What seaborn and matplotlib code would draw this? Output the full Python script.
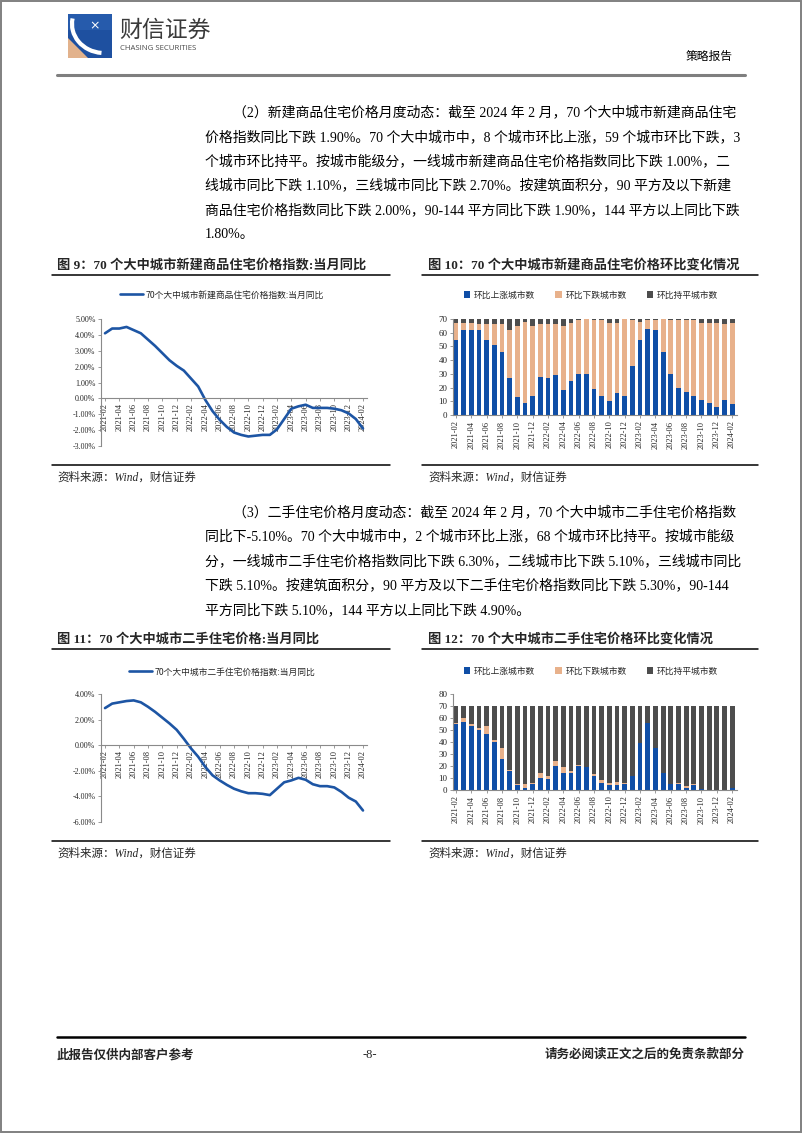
import numpy as np
import pandas as pd
import matplotlib
matplotlib.use("Agg")
import matplotlib.pyplot as plt
import seaborn as sns
from matplotlib.lines import Line2D
from matplotlib.patches import Rectangle, Patch, Polygon, Arc

# ---------------- data ----------------
months = ["2021-02", "2021-03", "2021-04", "2021-05", "2021-06", "2021-07", "2021-08",
          "2021-09", "2021-10", "2021-11", "2021-12", "2022-01", "2022-02", "2022-03",
          "2022-04", "2022-05", "2022-06", "2022-07", "2022-08", "2022-09", "2022-10",
          "2022-11", "2022-12", "2023-01", "2023-02", "2023-03", "2023-04", "2023-05",
          "2023-06", "2023-07", "2023-08", "2023-09", "2023-10", "2023-11", "2023-12",
          "2024-01", "2024-02"]

# 图9 新建商品住宅价格指数 当月同比 (%)
new_yoy = [4.1, 4.4, 4.4, 4.5, 4.3, 4.1, 3.7, 3.3, 2.85, 2.4,
           2.05, 1.75, 1.25, 0.75, -0.1, -0.8, -1.35, -1.8, -2.15, -2.3,
           -2.4, -2.35, -2.3, -2.3, -1.95, -1.3, -0.65, -0.5, -0.4, -0.6,
           -0.6, -0.6, -0.65, -0.75, -0.95, -1.3, -1.9]

# 图10 新建商品住宅 环比城市数
new_up = [55, 62, 62, 62, 55, 51, 46, 27, 13, 9,
          14, 28, 27, 29, 18, 25, 30, 30, 19, 14,
          10, 16, 14, 36, 55, 63, 62, 46, 30, 20,
          17, 14, 11, 9, 6, 11, 8]
new_flat = [3, 3, 3, 4, 4, 4, 4, 8, 5, 2,
            5, 4, 4, 4, 5, 3, 1, 0, 1, 1,
            3, 3, 0, 1, 2, 1, 1, 0, 1, 1,
            1, 1, 3, 3, 3, 4, 3]
new_total = [70] * 37

# 图11 二手住宅价格指数 当月同比 (%)
sec_yoy = [2.9, 3.25, 3.35, 3.45, 3.5, 3.35, 3.0, 2.6, 2.15, 1.7,
           1.2, 0.5, -0.25, -0.9, -1.7, -2.35, -2.75, -3.1, -3.4, -3.6,
           -3.75, -3.75, -3.8, -3.9, -3.4, -2.9, -2.75, -2.55, -2.7, -3.05,
           -3.2, -3.2, -3.3, -3.65, -4.1, -4.4, -5.1]

# 图12 二手住宅 环比城市数
sec_up = [55, 57, 53, 50, 47, 40, 26, 16, 4, 2,
          5, 10, 9, 20, 14, 14, 20, 19, 12, 6,
          4, 4, 5, 12, 39, 56, 35, 14, 5, 5,
          2, 4, 1, 0, 0, 0, 2]
sec_down = [1, 3, 2, 2, 6, 2, 9, 1, 1, 3,
            1, 4, 3, 4, 5, 2, 1, 0, 1, 2,
            2, 3, 1, 0, 0, 0, 0, 0, 0, 1,
            1, 1, 0, 0, 0, 0, 0]
sec_total = [70] * 37

legend_bar = ["环比上涨城市数", "环比下跌城市数", "环比持平城市数"]
legend_new_line = "70个大中城市新建商品住宅价格指数:当月同比"
legend_sec_line = "70个大中城市二手住宅价格指数:当月同比"

para2 = ["（2）新建商品住宅价格月度动态：截至 2024 年 2 月，70 个大中城市新建商品住宅",
         "价格指数同比下跌 1.90%。70 个大中城市中，8 个城市环比上涨，59 个城市环比下跌，3",
         "个城市环比持平。按城市能级分，一线城市新建商品住宅价格指数同比下跌 1.00%，二",
         "线城市同比下跌 1.10%，三线城市同比下跌 2.70%。按建筑面积分，90 平方及以下新建",
         "商品住宅价格指数同比下跌 2.00%，90-144 平方同比下跌 1.90%，144 平方以上同比下跌",
         "1.80%。"]
para3 = ["（3）二手住宅价格月度动态：截至 2024 年 2 月，70 个大中城市二手住宅价格指数",
         "同比下-5.10%。70 个大中城市中，2 个城市环比上涨，68 个城市环比持平。按城市能级",
         "分，一线城市二手住宅价格指数同比下跌 6.30%，二线城市比下跌 5.10%，三线城市同比",
         "下跌 5.10%。按建筑面积分，90 平方及以下二手住宅价格指数同比下跌 5.30%，90-144",
         "平方同比下跌 5.10%，144 平方以上同比下跌 4.90%。"]
titles = ["图 9：70 个大中城市新建商品住宅价格指数:当月同比",
          "图 10：70 个大中城市新建商品住宅价格环比变化情况",
          "图 11：70 个大中城市二手住宅价格:当月同比",
          "图 12：70 个大中城市二手住宅价格环比变化情况"]
source = "资料来源：Wind，财信证券"

# ---------------- style ----------------
sns.set_theme(style="ticks")
CJK = "Noto Sans CJK SC"
SERIF = ["Liberation Serif", CJK, "DejaVu Sans"]
plt.rcParams["font.family"] = SERIF
plt.rcParams["axes.unicode_minus"] = False

LINE_C = "#1D55A4"
BLUE = "#0F4EA6"
ORANGE = "#E8B18B"
DARK = "#4D4D4D"
AX_C = "#8A8A8A"

W, H = 802, 1133
fig = plt.figure(figsize=(W / 100, H / 100), dpi=100)
fig.patch.set_facecolor("white")


def axes_px(x0, y0, x1, y1):
    return fig.add_axes([x0 / W, 1 - y1 / H, (x1 - x0) / W, (y1 - y0) / H])


def ftext(x, y, s, **kw):
    return fig.text(x / W, 1 - y / H, s, **kw)


def hline(x0, x1, y, lw, color):
    fig.add_artist(Line2D([x0 / W, x1 / W], [1 - y / H, 1 - y / H], lw=lw,
                          color=color, transform=fig.transFigure))


# page border
fig.add_artist(Rectangle((0.6 / W, 0.6 / H), (W - 1.2) / W, (H - 1.2) / H,
                         transform=fig.transFigure, fill=False, ec="#808080", lw=1.4))

# ---------------- header ----------------
lax = axes_px(68, 14, 112, 58)
lax.set_xlim(0, 44)
lax.set_ylim(44, 0)
lax.axis("off")
lax.add_patch(Rectangle((0, 0), 44, 44, fc="#1E50A0", ec="none"))
lax.add_patch(Rectangle((0, 0), 44, 16, fc="#2C63B5", ec="none", alpha=0.6))
lax.add_patch(Polygon([(0, 24), (0, 44), (20, 44)], closed=True, fc="#E2B28C", ec="none"))
lax.add_patch(Arc((36, 10), 64, 58, theta1=95, theta2=190, color="white", lw=3.0))
lax.text(27, 12, "×", color="white", fontsize=9, ha="center", va="center", family="DejaVu Sans")

ftext(119, 30, "财信证券", fontsize=16.5, color="#3A3A3A", family=[CJK], va="center", ha="left")
ftext(120, 49, "CHASING SECURITIES", fontsize=5.6, color="#4A4A4A", family=["Open Sans", "DejaVu Sans"],
      va="center", ha="left")
ftext(733, 57, "策略报告", fontsize=8.5, color="black", family=SERIF, va="center", ha="right")
hline(57, 745, 75, 2.2, "#7F7F7F")

# ---------------- body text ----------------
for i, line in enumerate(para2):
    x = 233 if i == 0 else 205
    ftext(x, 112.5 + 24.4 * i, line, fontsize=10, family=SERIF, va="center", ha="left", color="black")
for i, line in enumerate(para3):
    x = 233 if i == 0 else 205
    ftext(x, 512 + 24.5 * i, line, fontsize=10, family=SERIF, va="center", ha="left", color="black")

# titles / rules / sources
LCOL = (52, 390)
RCOL = (422, 758)
for (col, tx), (title, ty) in zip([(LCOL, 57), (RCOL, 428), (LCOL, 57), (RCOL, 428)],
                                  [(titles[0], 265), (titles[1], 265), (titles[2], 639), (titles[3], 639)]):
    ftext(tx, ty, title, fontsize=9.5, fontweight="bold", family=SERIF, va="center", ha="left")
    hline(col[0], col[1], ty + 9.5, 1.1, "black")

for col, tx in [(LCOL, 57), (RCOL, 428)]:
    hline(col[0], col[1], 465, 1.1, "black")
    ftext(tx, 478, source, fontsize=8.3, style="italic", family=SERIF, va="center", ha="left")
    hline(col[0], col[1], 841, 1.1, "black")
    ftext(tx, 854, source, fontsize=8.3, style="italic", family=SERIF, va="center", ha="left")

# footer
hline(57, 745, 1037, 1.8, "black")
ftext(57, 1055, "此报告仅供内部客户参考", fontsize=9, fontweight="bold", family=SERIF, va="center", ha="left")
ftext(370, 1055, "-8-", fontsize=9, family=SERIF, va="center", ha="center")
ftext(745, 1055, "请务必阅读正文之后的免责条款部分", fontsize=9, fontweight="bold", family=SERIF,
      va="center", ha="right")


# ---------------- charts ----------------
def style_axes(ax):
    for s in ["top", "right"]:
        ax.spines[s].set_visible(False)
    for s in ["left", "bottom"]:
        ax.spines[s].set_color(AX_C)
        ax.spines[s].set_linewidth(0.8)
    ax.set_facecolor("none")
    ax.grid(False)
    ax.set_xlabel("")
    ax.set_ylabel("")


def line_chart(box, vals, ylim, yticks, label, leg_xy):
    ax = axes_px(*box)
    sns.lineplot(x=np.arange(len(vals)), y=vals, ax=ax, color=LINE_C, lw=1.9, legend=False)
    style_axes(ax)
    ax.spines["bottom"].set_position(("data", 0))
    ax.set_xlim(-0.56, len(vals) - 1 + 0.56)
    ax.set_ylim(*ylim)
    ax.set_yticks(yticks)
    ax.set_yticklabels([f"{v:.2f}%" for v in yticks])
    ax.set_xticks(range(0, len(months), 2))
    ax.set_xticklabels(months[::2], rotation=90)
    ax.tick_params(axis="x", labelsize=6, length=2.5, width=0.6, color=AX_C, pad=1,
                   direction="out", bottom=True, labelrotation=90)
    ax.tick_params(axis="y", labelsize=5.8, length=2.5, width=0.6, color=AX_C, pad=1.5,
                   direction="out", left=True)
    fig.legend([Line2D([0], [0], color=LINE_C, lw=1.9)], [label], loc="center",
               bbox_to_anchor=(leg_xy[0] / W, 1 - leg_xy[1] / H), frameon=False,
               prop={"family": [CJK], "size": 6.3}, handlelength=2.6, handletextpad=0.3)
    return ax


def bar_chart(box, up, mid, total, ylim, yticks, leg_xy):
    ax = axes_px(*box)
    up_a = np.array(up)
    mid_a = np.array(mid)
    total_a = np.array(total)
    kw = dict(saturation=1, width=0.65, errorbar=None, linewidth=0, ax=ax)
    sns.barplot(x=months, y=total_a, color=DARK, **kw)           # 持平 (top segment)
    sns.barplot(x=months, y=up_a + mid_a, color=ORANGE, **kw)    # 下跌 (middle segment)
    sns.barplot(x=months, y=up_a, color=BLUE, **kw)              # 上涨 (bottom segment)
    style_axes(ax)
    ax.set_xlim(-0.39, len(months) - 1 + 0.65)
    ax.set_ylim(*ylim)
    ax.set_yticks(yticks)
    ax.set_yticklabels([str(v) for v in yticks])
    ax.set_xticks(range(0, len(months), 2))
    ax.set_xticklabels(months[::2], rotation=90)
    ax.tick_params(axis="x", labelsize=6, length=2.5, width=0.6, color=AX_C, pad=1.5,
                   direction="out", bottom=True, labelrotation=90)
    ax.tick_params(axis="y", labelsize=6.5, length=2.5, width=0.6, color=AX_C, pad=1.5,
                   direction="out", left=True)
    handles = [Patch(fc=c, ec="none") for c in (BLUE, ORANGE, DARK)]
    fig.legend(handles, legend_bar, loc="center", ncol=3,
               bbox_to_anchor=(leg_xy[0] / W, 1 - leg_xy[1] / H), frameon=False,
               prop={"family": [CJK], "size": 6.3}, handlelength=0.75, handleheight=0.75,
               handletextpad=0.4, columnspacing=2.3)
    return ax


line_chart((101, 319, 367, 446), new_yoy, (-3, 5), [-3, -2, -1, 0, 1, 2, 3, 4, 5],
           legend_new_line, (222, 295))
new_down = [t - u - f for t, u, f in zip(new_total, new_up, new_flat)]
bar_chart((453, 319, 737, 415), new_up, new_down, new_total, (0, 70),
          [0, 10, 20, 30, 40, 50, 60, 70], (591, 295))

line_chart((101, 694, 367, 822), sec_yoy, (-6, 4), [-6, -4, -2, 0, 2, 4],
           legend_sec_line, (222, 672))
bar_chart((453, 694, 737, 790), sec_up, sec_down, sec_total, (0, 80),
          [0, 10, 20, 30, 40, 50, 60, 70, 80], (591, 671))

fig.savefig("out.png", dpi=100, facecolor="white")
